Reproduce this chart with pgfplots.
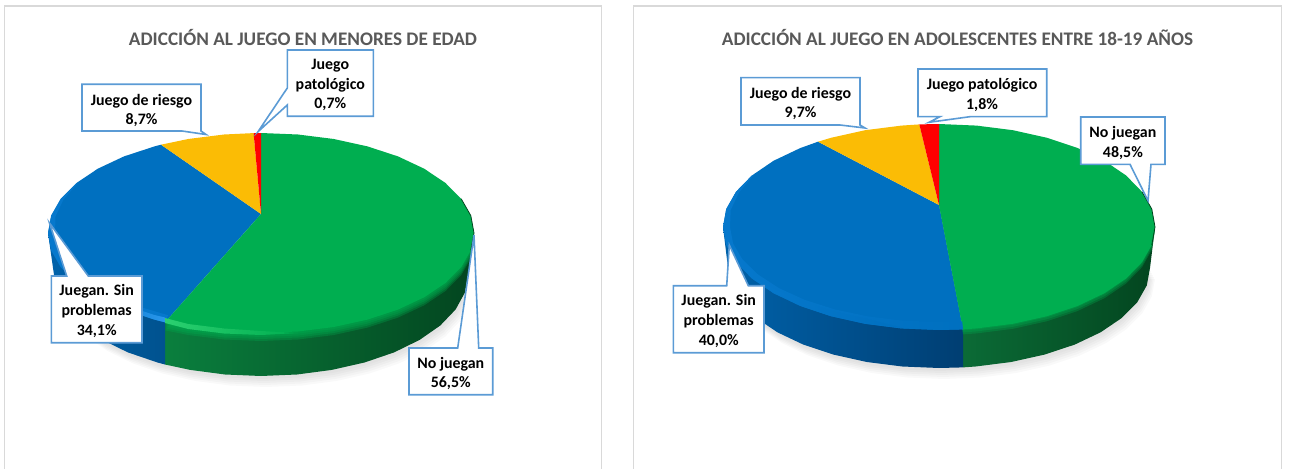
\documentclass[border=0pt]{standalone}
\usepackage{fontspec}
\setmainfont{Carlito}
\usepackage{pgfplots}
\usepackage{pgfplotstable}
\pgfplotsset{compat=1.18}

\definecolor{cgreen}{HTML}{00AE50}
\definecolor{cblue}{HTML}{0070C0}
\definecolor{cyellow}{HTML}{FBBC05}
\definecolor{cred}{HTML}{FF0000}
\definecolor{cline}{HTML}{5B9BD5}
\definecolor{cframe}{HTML}{D9D9D9}
\definecolor{ctitle}{HTML}{595959}
\definecolor{gdark}{HTML}{03451F}
\definecolor{gmid}{HTML}{044A23}
\definecolor{gside}{HTML}{0A7F3E}
\definecolor{gside2}{HTML}{0B6B36}
\definecolor{gbright}{HTML}{2BD070}
\definecolor{bside}{HTML}{0062AA}
\definecolor{bmid}{HTML}{00528F}
\definecolor{bdark}{HTML}{003E72}
\definecolor{brim}{HTML}{0678CC}
\definecolor{bbright}{HTML}{2A97EC}

% all coordinates are picture pixels, y going down
\pgfplotsset{panel/.style={
    x=1pt,y=1pt,y dir=reverse,ymin=0,ymax=468,
    axis lines=none,ticks=none,anchor=south west,
    title style={anchor=center,text=ctitle,font=\fontsize{19.2}{22}\selectfont\bfseries},
  },
  slice/.style={draw=none,fill=#1,forget plot},
  fade/.style={draw=none,fill=#1,fill opacity=.3,forget plot},
  shadow/.style={draw=none,fill=black,fill opacity=.025,forget plot},
  callout/.style={draw=cline,line width=1.6pt,fill=white,line join=miter,forget plot},
}
\newcommand\lab{\fontsize{15.9}{19.6}\selectfont\bfseries}

% left pie, top face
\pgfplotstableread{
x y
261 214
261 133
298 134.5
333.8 139
367.5 146.4
398 156.4
424.2 168.7
445.5 183
461.2 198.8
470.8 215.6
474 233
470.8 250.4
461.2 267.2
445.5 283
424.2 297.3
398 309.6
367.5 319.6
333.8 327
298 331.5
261 333
224 331.5
188.2 327
165 322.3
}\LgreenTop
\pgfplotstableread{
x y
261 214
165 322.3
154.5 319.6
124 309.6
97.8 297.3
76.5 283
60.8 267.2
51.2 250.4
48 233
51.2 215.6
60.8 198.8
76.5 183
97.8 168.7
124 156.4
154.5 146.4
161 144.7
}\LblueTop
\pgfplotstableread{
x y
261 214
161 144.7
188.2 139
224 134.5
253.6 133.1
}\LyellowTop
\pgfplotstableread{
x y
261 214
253.6 133.1
261 133
}\LredTop
% left pie, side walls
\pgfplotstableread{
x y
474 233
468 275
464.9 292.6
455.6 309.5
440.3 325.5
419.6 339.9
394.1 352.4
364.5 362.5
331.8 369.9
297 374.5
261 376
225 374.5
190.2 369.9
165 364.5
165 322.3
}\LgreenSide
\pgfplotstableread{
x y
165 322.3
165 364.5
157.5 362.5
127.9 352.4
102.4 339.9
81.7 325.5
66.4 309.5
57.1 292.6
54 275
48 233
}\LblueSide
\pgfplotstableread{
x y
468 275
464.9 292.6
455.6 309.5
440.3 325.5
419.6 339.9
394.1 352.4
364.5 362.5
331.8 369.9
297 374.5
261 376
225 374.5
190.2 369.9
157.5 362.5
127.9 352.4
102.4 339.9
81.7 325.5
66.4 309.5
57.1 292.6
54 275
}\Lfront
% left pie, bright rims
\pgfplotstableread{
x y
165 322.3
154.5 319.6
124 309.6
97.8 297.3
76.5 283
60.8 267.2
51.2 250.4
48 233
51.2 215.6
60.8 198.8
76.5 183
77.5 183.3
63.5 199.5
55.5 216.5
55 233
58.1 249
67.4 264.5
82.6 279
103.2 292.2
128.5 303.5
168.1 315.2
}\LblueRim
\pgfplotstableread{
x y
102 300
124 309.6
154.5 319.6
165 322.3
165 317.5
154.5 315
124 305
}\LblueLens
\pgfplotstableread{
x y
165 323
188.2 329
224 333.5
261 335
298 333
261 331
224 328.5
188.2 324
165 318
}\LgreenLens
\pgfplotstableread{
x y
461.2 198.8
470.8 215.6
474 233
470.8 250.4
}\LdarkEdge

% right pie, top face
\pgfplotstableread{
x y
939 205
939 124
976.6 125.6
1012.9 130.2
1047 137.8
1077.8 148.1
1104.5 160.8
1126.1 175.5
1142 191.8
1151.8 209.1
1155 227
1151.8 244.9
1142 262.2
1126.1 278.5
1104.5 293.2
1077.8 305.9
1047 316.2
1012.9 323.8
976.6 328.4
963 329.4
}\RgreenTop
\pgfplotstableread{
x y
939 205
963 329.4
939 330
901.4 328.4
865.1 323.8
831 316.2
800.2 305.9
773.5 293.2
751.9 278.5
736 262.2
726.2 244.9
723 227
726.2 209.1
736 191.8
751.9 175.5
773.5 160.8
800.2 148.1
818 141.7
}\RblueTop
\pgfplotstableread{
x y
939 205
818 141.7
831 137.8
865.1 130.2
901.4 125.6
919.3 124.4
}\RyellowTop
\pgfplotstableread{
x y
939 205
919.3 124.4
939 124
}\RredTop
% right pie, side walls
\pgfplotstableread{
x y
1155 227
1150 268
1146.8 285.4
1137.3 302.2
1121.7 318
1100.6 332.3
1074.7 344.6
1044.5 354.6
1011.2 362
975.7 366.5
963 367.4
963 329.4
}\RgreenSide
\pgfplotstableread{
x y
963 329.4
963 367.4
939 368
902.3 366.5
866.8 362
833.5 354.6
803.3 344.6
777.4 332.3
756.3 318
740.7 302.2
731.2 285.4
728 268
723 227
}\RblueSide
\pgfplotstableread{
x y
1150 268
1146.8 285.4
1137.3 302.2
1121.7 318
1100.6 332.3
1074.7 344.6
1044.5 354.6
1011.2 362
975.7 366.5
939 368
902.3 366.5
866.8 362
833.5 354.6
803.3 344.6
777.4 332.3
756.3 318
740.7 302.2
731.2 285.4
728 268
}\Rfront
% right pie, bright rim
\pgfplotstableread{
x y
963 329.4
939 330
901.4 328.4
865.1 323.8
831 316.2
800.2 305.9
773.5 293.2
751.9 278.5
736 262.2
726.2 244.9
723 227
726.2 209.1
736 191.8
751.9 175.5
753 175.8
739 192.5
730.7 210
730 227
733.1 243.5
742.5 259.5
758 274.5
778.9 288.1
804.6 299.8
834.5 309.3
867.5 316.3
902.6 320.6
939 322
962.2 321.4
}\RblueRim
\pgfplotstableread{
x y
752 277
773.5 292.5
800.2 305
831 315.5
865.1 323
901.4 327.5
865.1 318.5
831 311
800.2 300.5
773.5 288.5
}\RblueLens
\pgfplotstableread{
x y
1142 191.8
1151.8 209.1
1155 227
1151.8 244.9
}\RdarkEdge

\begin{document}
\begin{tikzpicture}
\useasboundingbox (0,0) rectangle (1289pt,468pt);

\begin{axis}[panel,xmin=0,xmax=620,at={(0pt,0pt)},
    title={ADICCIÓN AL JUEGO EN MENORES DE EDAD},
    title style={at={(axis description cs:0.4887,0.9081)}}]
  \addplot[draw=cframe,line width=1.4pt,forget plot] coordinates {(4.5,470) (4.5,6) (601.7,6) (601.7,470)};

  \addplot[shadow,xshift=1pt,yshift=-3pt] table {\Lfront} -- cycle;
  \addplot[shadow,xshift=2pt,yshift=-5pt] table {\Lfront} -- cycle;
  \addplot[shadow,xshift=3pt,yshift=-7pt] table {\Lfront} -- cycle;
  \addplot[shadow,xshift=4pt,yshift=-9pt] table {\Lfront} -- cycle;
  \addplot[shadow,xshift=5pt,yshift=-11pt] table {\Lfront} -- cycle;

  \addplot[draw=none,forget plot,left color=gside,middle color=gmid,right color=gdark] table {\LgreenSide} -- cycle;
  \addplot[draw=none,forget plot,left color=bside,right color=bmid] table {\LblueSide} -- cycle;

  \addplot[fade=cgreen,yshift=-2pt] table {\LgreenTop} -- cycle;
  \addplot[fade=cgreen,yshift=-4pt] table {\LgreenTop} -- cycle;
  \addplot[fade=cgreen,yshift=-6pt] table {\LgreenTop} -- cycle;
  \addplot[fade=cgreen,yshift=-8pt] table {\LgreenTop} -- cycle;

  \addplot[slice=cblue] table {\LblueTop} -- cycle;
  \addplot[slice=cgreen] table {\LgreenTop} -- cycle;
  \addplot[slice=cyellow] table {\LyellowTop} -- cycle;
  \addplot[slice=cred] table {\LredTop} -- cycle;
  \addplot[slice=brim] table {\LblueRim} -- cycle;
  \addplot[draw=none,forget plot,left color=brim,right color=bbright] table {\LblueLens} -- cycle;
  \addplot[draw=none,forget plot,left color=gbright,right color=cgreen] table {\LgreenLens} -- cycle;
  \addplot[draw=gdark,line width=.8pt,forget plot] table {\LdarkEdge};

  \addplot[callout] coordinates {(82,84.3) (201,84.3) (201,131) (206,134.5) (182,131) (82,131)} -- cycle;
  \addplot[callout] coordinates {(287.3,50) (373.3,50) (373.3,116.3) (287.3,116.3) (287.3,105) (258,131.7) (287.3,88)} -- cycle;
  \addplot[callout] coordinates {(409,348) (457.7,348) (474,235) (478.7,348) (492.7,348) (492.7,394.7) (409,394.7)} -- cycle;
  \addplot[callout] coordinates {(51.3,276) (66.7,276) (49.5,223) (88.3,276) (142,276) (142,342.7) (51.3,342.7)} -- cycle;

  \node[align=center,font=\lab] at (axis cs:141.5,110.5) {Juego de riesgo\\8,7\%};
  \node[align=center,font=\lab] at (axis cs:330.3,85) {Juego\\patológico\\0,7\%};
  \node[align=center,font=\lab] at (axis cs:450.8,373.5) {No juegan\\56,5\%};
  \node[align=center,font=\lab] at (axis cs:96.7,311) {Juegan. Sin\\problemas\\34,1\%};
\end{axis}

\begin{axis}[panel,xmin=620,xmax=1289,at={(620pt,0pt)},
    title={ADICCIÓN AL JUEGO EN ADOLESCENTES ENTRE 18-19 AÑOS},
    title style={at={(axis description cs:0.5045,0.9081)}}]
  \addplot[draw=cframe,line width=1.4pt,forget plot] coordinates {(633.3,470) (633.3,6) (1281.7,6) (1281.7,470)};

  \addplot[shadow,xshift=1pt,yshift=-3pt] table {\Rfront} -- cycle;
  \addplot[shadow,xshift=2pt,yshift=-5pt] table {\Rfront} -- cycle;
  \addplot[shadow,xshift=3pt,yshift=-7pt] table {\Rfront} -- cycle;
  \addplot[shadow,xshift=4pt,yshift=-9pt] table {\Rfront} -- cycle;
  \addplot[shadow,xshift=5pt,yshift=-11pt] table {\Rfront} -- cycle;

  \addplot[draw=none,forget plot,left color=gside2,middle color=gdark,right color=gdark] table {\RgreenSide} -- cycle;
  \addplot[draw=none,forget plot,left color=bside,middle color=bmid,right color=bdark] table {\RblueSide} -- cycle;

  \addplot[fade=cgreen,yshift=-1pt] table {\RgreenTop} -- cycle;
  \addplot[fade=cgreen,yshift=-3pt] table {\RgreenTop} -- cycle;
  \addplot[fade=cgreen,yshift=-5pt] table {\RgreenTop} -- cycle;

  \addplot[slice=cblue] table {\RblueTop} -- cycle;
  \addplot[slice=cgreen] table {\RgreenTop} -- cycle;
  \addplot[slice=cyellow] table {\RyellowTop} -- cycle;
  \addplot[slice=cred] table {\RredTop} -- cycle;
  \addplot[draw=none,forget plot,left color=brim,middle color=brim,right color=cblue] table {\RblueRim} -- cycle;
  \addplot[draw=none,forget plot,left color=brim,middle color=bbright,right color=cblue] table {\RblueLens} -- cycle;
  \addplot[draw=gdark,line width=.8pt,forget plot] table {\RdarkEdge};

  \addplot[callout] coordinates {(741,77.7) (860,77.7) (860,125) (865,128) (840,125) (741,125)} -- cycle;
  \addplot[callout] coordinates {(918,69) (1046.7,69) (1046.7,116.7) (970,116.7) (929,122.3) (940,116.7) (918,116.7)} -- cycle;
  \addplot[callout] coordinates {(1080.7,117) (1165,117) (1165,164.3) (1151,164.3) (1148,200.7) (1130,164.3) (1080.7,164.3)} -- cycle;
  \addplot[callout] coordinates {(673.3,285.7) (726.7,285.7) (729.3,245) (748.3,285.7) (764,285.7) (764,352.7) (673.3,352.7)} -- cycle;

  \node[align=center,font=\lab] at (axis cs:800.5,103.5) {Juego de riesgo\\9,7\%};
  \node[align=center,font=\lab] at (axis cs:982,94.7) {Juego patológico\\1,8\%};
  \node[align=center,font=\lab] at (axis cs:1122.9,143) {No juegan\\48,5\%};
  \node[align=center,font=\lab] at (axis cs:718.7,321) {Juegan. Sin\\problemas\\40,0\%};
\end{axis}
\end{tikzpicture}
\end{document}
